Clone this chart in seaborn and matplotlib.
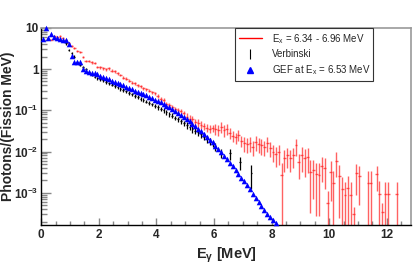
import numpy as np
import matplotlib
matplotlib.use('Agg')
import matplotlib.pyplot as plt
import seaborn as sns
from matplotlib.lines import Line2D
from matplotlib.ticker import FixedLocator, LogLocator, MultipleLocator, NullFormatter

sns.set_style('ticks')
plt.rcParams['font.family'] = ['Liberation Sans', 'DejaVu Sans']
plt.rcParams['mathtext.default'] = 'regular'

# GEF at Ex = 6.53 MeV, 0.1 MeV bins from 0.05 to 8.15 MeV
gef_e = np.round(np.arange(0.05, 8.2, 0.1), 2)
gef_y = [5.5, 9.8, 5.8, 7.0, 6.0, 5.6, 5.4, 5.0, 5.1, 4.0,
         2.1, 1.5, 1.45, 1.5, 1.0, 0.90, 0.86, 0.82, 0.78, 0.74,
         0.69, 0.65, 0.60, 0.56, 0.52, 0.49, 0.46, 0.43, 0.40, 0.37,
         0.35, 0.32, 0.30, 0.28, 0.26, 0.245, 0.23, 0.21, 0.195, 0.18,
         0.166, 0.155, 0.141, 0.129, 0.117, 0.105, 0.095, 0.085, 0.076, 0.068,
         0.060, 0.054, 0.047, 0.041, 0.035, 0.031, 0.027, 0.023, 0.0195, 0.0166,
         0.0138, 0.0115, 0.0095, 0.0079, 0.0065, 0.0052, 0.0044, 0.0035, 0.0029, 0.0023,
         0.0019, 0.0015, 0.0012, 0.00093, 0.00074, 0.00059, 0.00047, 0.00038, 0.00031, 0.00026,
         0.00022, 0.00018]

# measured, Ex = 6.34 - 6.96 MeV, 0.1 MeV bins from 0.25 to 12.35 MeV
meas_e = np.round(np.arange(0.25, 12.4, 0.1), 2)
meas_y = [5.5, 5.2, 6.2, 6.0, 6.3, 5.8, 5.0, 4.2,
          3.6, 3.2, 2.8, 2.6, 2.0, 1.6, 1.55, 1.45, 1.40, 1.15,
          1.10, 1.05, 0.98, 1.05, 0.92, 0.88, 0.80, 0.72, 0.62, 0.58,
          0.52, 0.47, 0.45, 0.40, 0.38, 0.34, 0.32, 0.30, 0.27, 0.26,
          0.22, 0.19, 0.18, 0.145, 0.135, 0.12, 0.11, 0.10, 0.095, 0.085,
          0.070, 0.063, 0.060, 0.052, 0.050, 0.045, 0.042, 0.038, 0.036, 0.037,
          0.036, 0.034, 0.040, 0.033, 0.036, 0.028, 0.024, 0.022, 0.025, 0.018,
          0.016, 0.015, 0.016, 0.013, 0.017, 0.015, 0.014, 0.013, 0.016, 0.012,
          0.010, 0.0085, 0.0095, 0.0027, 0.0070, 0.0080, 0.0070, 0.0080, 0.014, 0.0055,
          0.0080, 0.0068, 0.0075, 0.0032, 0.0035, 0.0028, 0.0027, 0.0045, 0.0040, 0.00055,
          0.0032, 0.0017, 0.0060, 0.0025, 0.0012, 0.0009, 0.0013, 0.0009, 0.0003, 0.0030,
          0.0025, np.nan, np.nan, 0.0017, 0.0017, np.nan, 0.0028, 0.00095, 0.00035, 0.00092,
          0.00092, np.nan, np.nan, 0.00092]
meas_rel = ([0.05] * 8 + [0.06] * 10 + [0.08] * 10 + [0.09] * 10 + [0.12] * 10
            + [0.2] * 10 + [0.3] * 10 + [0.4] * 10
            + [0.45, 0.5, 0.5, 1.0, 0.55, 0.5, 0.55, 0.5, 0.45, 0.6]
            + [0.6, 0.65, 0.6, 0.9, 0.8, 0.9, 0.9, 0.6, 0.7, 1.0]
            + [0.8, 1.0, 0.6, 0.9, 1.0, 1.0, 1.0, 1.0, 0.5, 0.7]
            + [0.8, 0, 0, 1.0, 1.0, 0, 0.6, 1.0, 0.6, 1.0]
            + [1.0, 0, 0, 1.0])

# Verbinski
verb_e = list(np.round(np.arange(0.85, 6.1, 0.1), 2)) + [6.25, 6.55, 6.9, 7.3]
verb_y = [4.2, 2.9,
          2.4, 2.0, 1.45, 1.26, 1.10, 1.0, 0.85, 0.74, 0.65, 0.60,
          0.575, 0.53, 0.49, 0.455, 0.42, 0.39, 0.36, 0.33, 0.31, 0.29,
          0.265, 0.245, 0.225, 0.21, 0.19, 0.178, 0.163, 0.15, 0.14, 0.128,
          0.118, 0.108, 0.099, 0.090, 0.081, 0.074, 0.066, 0.060, 0.054, 0.049,
          0.044, 0.040, 0.035, 0.032, 0.029, 0.026, 0.023, 0.020, 0.018, 0.0155,
          0.0135, 0.0092, 0.0090, 0.0056, 0.0030]
verb_rel = [0.08] * 12 + [0.09] * 10 + [0.1] * 10 + [0.13] * 10 + [0.18] * 10 + [0.22, 0.25, 0.3, 0.35, 0.6]

fig, ax = plt.subplots(figsize=(4.15, 2.65), dpi=100)
fig.subplots_adjust(left=0.0995, right=0.990, top=0.895, bottom=0.151)

my = np.array(meas_y, dtype=float)
mr = np.array(meas_rel)
ax.errorbar(meas_e, my, yerr=my * mr, xerr=0.05, fmt='none', ecolor='#ff2020',
            elinewidth=1.0, alpha=0.7, zorder=2)

vy = np.array(verb_y)
ax.errorbar(verb_e, vy, yerr=vy * np.array(verb_rel), xerr=0.03, fmt='none',
            ecolor='black', elinewidth=0.9, zorder=3)

sns.scatterplot(x=gef_e, y=gef_y, marker='^', s=16, color='#0000ff',
                linewidth=0, ax=ax, zorder=4, clip_on=False)

ax.set_yscale('log')
ax.set_xlim(0, 12.84)
ax.set_ylim(1.65e-4, 10)

ax.xaxis.set_major_locator(MultipleLocator(2))
ax.xaxis.set_minor_locator(MultipleLocator(0.5))
ax.yaxis.set_major_locator(FixedLocator([1e-3, 1e-2, 1e-1, 1, 10]))
ax.set_yticklabels(['$10^{-3}$', '$10^{-2}$', '$10^{-1}$', '1', '10'])
ax.yaxis.set_minor_locator(LogLocator(base=10, subs=np.arange(2, 10)))
ax.yaxis.set_minor_formatter(NullFormatter())

ax.tick_params(which='both', direction='in', color='#888888', top=False, right=False,
               labelsize=8.5)
ax.tick_params(axis='x', which='major', length=5, width=1, pad=3)
ax.tick_params(axis='x', which='minor', length=3, width=1)
ax.tick_params(axis='y', which='major', length=7, width=1, pad=2)
ax.tick_params(axis='y', which='minor', length=4, width=1)
for lab in ax.get_xticklabels() + ax.get_yticklabels():
    lab.set_fontweight('bold')

for side in ['left', 'bottom']:
    ax.spines[side].set_color('black')
    ax.spines[side].set_linewidth(1.0)
for side in ['top', 'right']:
    ax.spines[side].set_color('#999999')
    ax.spines[side].set_linewidth(1.2)

ax.set_xlabel('E$_{\\gamma}$ [MeV]', fontsize=10.5, fontweight='bold', labelpad=3)
ax.set_ylabel('Photons/(Fission MeV)', fontsize=10, fontweight='bold')
ax.yaxis.set_label_coords(-0.071, 0.5)

handles = [
    Line2D([], [], color='red', lw=1),
    Line2D([], [], color='black', lw=0, marker='|', markersize=7, markeredgewidth=0.8),
    Line2D([], [], color='#0000ff', lw=0, marker='^', markersize=4),
]
labels = ['E$_{x}$ = 6.34 - 6.96 MeV', 'Verbinski', 'GEF at E$_{x}$ = 6.53 MeV']
leg = ax.legend(handles, labels, loc='upper left', bbox_to_anchor=(0.524, 0.76, 0.373, 0.24),
                mode='expand', borderaxespad=0, fancybox=False, framealpha=1,
                edgecolor='#333333', fontsize=7, handlelength=2.4, handletextpad=1.0,
                labelspacing=0.4, borderpad=0.4)
leg.get_frame().set_linewidth(0.8)

fig.savefig('out.png', dpi=100)
